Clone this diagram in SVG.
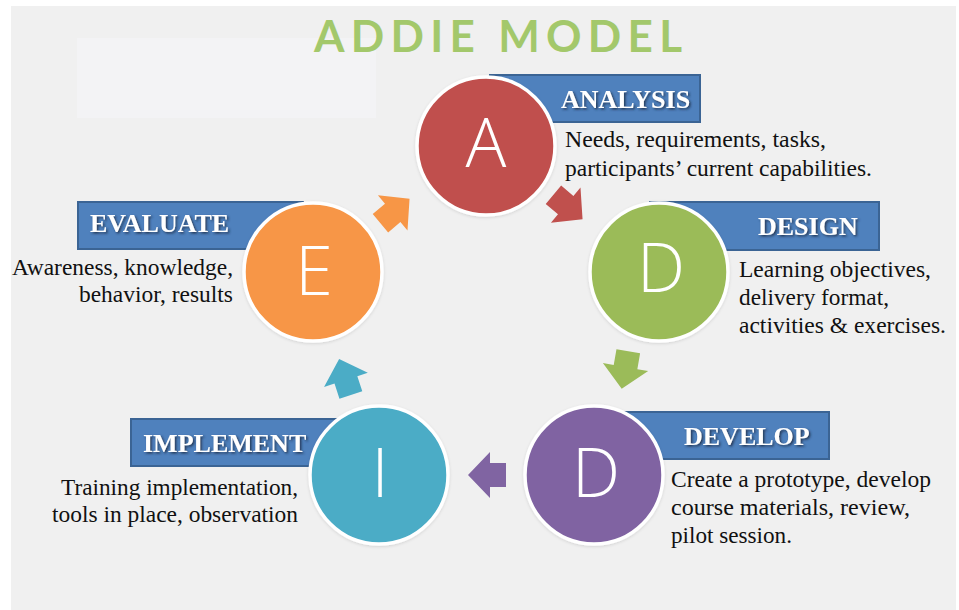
<svg xmlns="http://www.w3.org/2000/svg" width="959" height="610" viewBox="0 0 959 610">
  <style>
    .title { font-family: "Lato", "Open Sans", "DejaVu Sans", sans-serif; font-weight: 700; font-size: 44px; fill: #a3c86b; }
    .tag { fill: #4f81bd; stroke: #3b6494; stroke-width: 2; }
    .tagtxt { font-family: "Liberation Serif", "Times New Roman", serif; font-weight: 700; font-size: 26px; fill: #ffffff; filter: url(#txtShadow); }
    .body { font-family: "Liberation Serif", "Times New Roman", serif; font-size: 24px; fill: #111111; }
    .ring { stroke: #ffffff; stroke-width: 3.5; filter: url(#softShadow); }
    .letter { font-family: "Open Sans", "Liberation Sans", sans-serif; font-weight: 300; font-size: 68px; fill: #ffffff; text-anchor: middle; }
  </style>
  <defs>
    <filter id="txtShadow" x="-10%" y="-30%" width="130%" height="170%">
      <feDropShadow dx="1.5" dy="1.5" stdDeviation="0.8" flood-color="#1b2f4a" flood-opacity="0.9"/>
    </filter>
    <filter id="softShadow" x="-10%" y="-10%" width="120%" height="120%">
      <feDropShadow dx="0" dy="1" stdDeviation="1.5" flood-color="#000000" flood-opacity="0.12"/>
    </filter>
    <!-- block arrow pointing right, centred on the origin -->
    <path id="blockArrow" d="M-19,-12 H-3 V-23 L19,0 L-3,23 V12 H-19 Z"/>
  </defs>

  <!-- page background -->
  <rect x="0" y="0" width="959" height="610" fill="#ffffff"/>
  <rect x="11" y="6" width="945" height="604" fill="#f0f0f0"/>
  <rect x="77" y="38" width="299" height="80" fill="#f3f3f5"/>

  <text class="title" x="314" y="52" textLength="368" lengthAdjust="spacing">ADDIE MODEL</text>

  <!-- connectors -->
  <g id="connectors">
    <use href="#blockArrow" fill="#c0504d" transform="translate(568,207) rotate(40)"/>
    <use href="#blockArrow" fill="#9bbb59" transform="translate(625,370) rotate(100)"/>
    <use href="#blockArrow" fill="#8064a2" transform="translate(487,475) rotate(180)"/>
    <use href="#blockArrow" fill="#4bacc6" transform="translate(345,377) rotate(-108)"/>
    <use href="#blockArrow" fill="#f79646" transform="translate(395,211) rotate(-40)"/>
  </g>

  <g id="analysis">
    <rect class="tag" x="490" y="75" width="210" height="47"/>
    <text class="tagtxt" x="561" y="108">ANALYSIS</text>
    <circle class="ring" cx="486" cy="146" r="69" fill="#c0504d"/>
    <text class="letter" x="486" y="167">A</text>
    <text class="body" x="565" y="147" textLength="261" lengthAdjust="spacingAndGlyphs">Needs, requirements, tasks,</text>
    <text class="body" x="565" y="176" textLength="307" lengthAdjust="spacingAndGlyphs">participants’ current capabilities.</text>
  </g>

  <g id="design">
    <rect class="tag" x="650" y="202" width="229" height="48"/>
    <text class="tagtxt" x="758" y="235">DESIGN</text>
    <circle class="ring" cx="659" cy="272" r="69" fill="#9bbb59"/>
    <text class="letter" x="661" y="292">D</text>
    <text class="body" x="739" y="277" textLength="192" lengthAdjust="spacingAndGlyphs">Learning objectives,</text>
    <text class="body" x="739" y="305" textLength="150" lengthAdjust="spacingAndGlyphs">delivery format,</text>
    <text class="body" x="739" y="333" textLength="207" lengthAdjust="spacingAndGlyphs">activities &amp; exercises.</text>
  </g>

  <g id="develop">
    <rect class="tag" x="620" y="412" width="209" height="47"/>
    <text class="tagtxt" x="684" y="445">DEVELOP</text>
    <circle class="ring" cx="594" cy="475" r="69" fill="#8064a2"/>
    <text class="letter" x="596" y="497">D</text>
    <text class="body" x="671" y="487" textLength="260" lengthAdjust="spacingAndGlyphs">Create a prototype, develop</text>
    <text class="body" x="671" y="515" textLength="239" lengthAdjust="spacingAndGlyphs">course  materials, review,</text>
    <text class="body" x="671" y="543" textLength="121" lengthAdjust="spacingAndGlyphs">pilot session.</text>
  </g>

  <g id="implement">
    <rect class="tag" x="131" y="419" width="220" height="47"/>
    <text class="tagtxt" x="143" y="452">IMPLEMENT</text>
    <circle class="ring" cx="379" cy="475" r="69" fill="#4bacc6"/>
    <text class="letter" x="380" y="497">I</text>
    <text class="body" x="298" y="495" text-anchor="end" textLength="237" lengthAdjust="spacingAndGlyphs">Training implementation,</text>
    <text class="body" x="298" y="522" text-anchor="end" textLength="246" lengthAdjust="spacingAndGlyphs">tools in place, observation</text>
  </g>

  <g id="evaluate">
    <rect class="tag" x="78" y="202" width="225" height="47"/>
    <text class="tagtxt" x="90" y="232">EVALUATE</text>
    <circle class="ring" cx="313" cy="272" r="69" fill="#f79646"/>
    <text class="letter" x="314" y="295">E</text>
    <text class="body" x="233" y="275" text-anchor="end" textLength="221" lengthAdjust="spacingAndGlyphs">Awareness, knowledge,</text>
    <text class="body" x="233" y="302" text-anchor="end" textLength="154" lengthAdjust="spacingAndGlyphs">behavior, results</text>
  </g>
</svg>
